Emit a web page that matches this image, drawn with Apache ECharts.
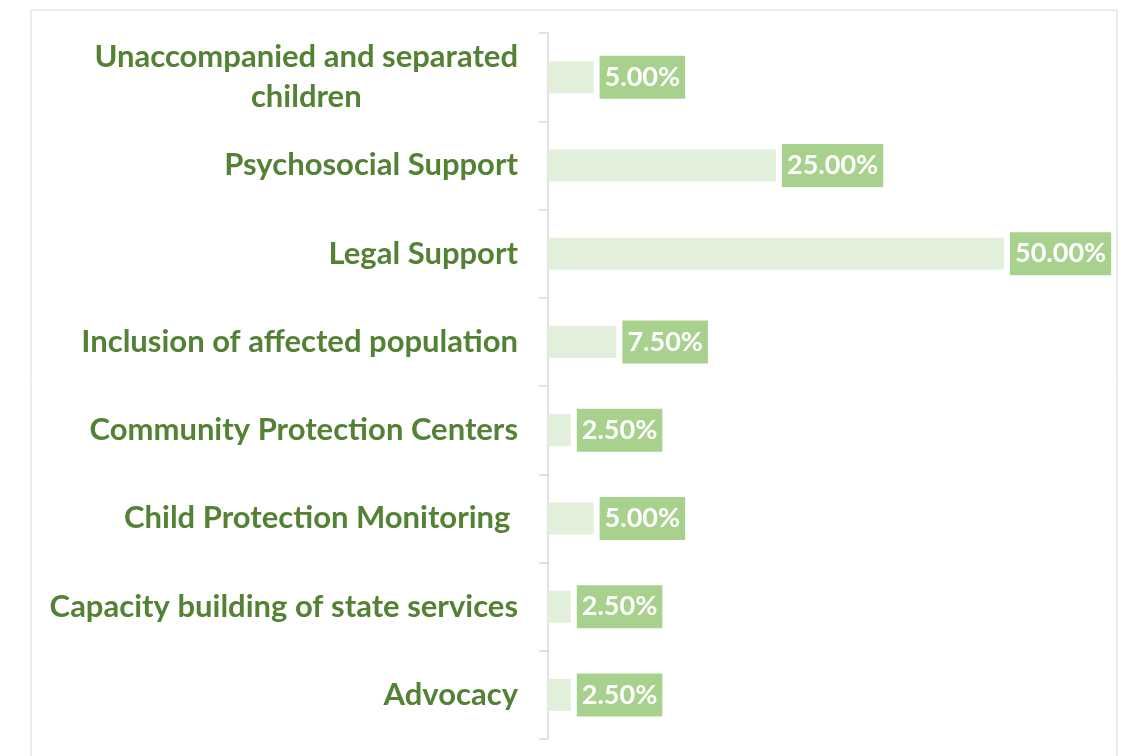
<!DOCTYPE html>
<html>
<head>
<meta charset="utf-8">
<script src="https://cdn.jsdelivr.net/npm/echarts@6/dist/echarts.min.js"></script>
<style>
  html, body { margin: 0; padding: 0; background: #fff; }
  #chart { width: 1123px; height: 756px; }
</style>
</head>
<body>
<div id="chart"></div>
<script>
// categories top to bottom
const categories = [
  'Unaccompanied and separated\nchildren',
  'Psychosocial Support',
  'Legal Support',
  'Inclusion of affected population',
  'Community Protection Centers',
  'Child Protection Monitoring ',
  'Capacity building of state services',
  'Advocacy'
]
// share of budget, percent
const shares = [5, 25, 50, 7.5, 2.5, 5, 2.5, 2.5]

const chart = echarts.init(document.getElementById('chart'))

chart.setOption({
  backgroundColor: '#ffffff',
  animation: false,
  graphic: [
    {
      type: 'rect',
      shape: { x: 31, y: 10, width: 1086, height: 770 },
      style: { fill: 'none', stroke: '#d9d9d9', lineWidth: 1 },
      silent: true
    }
  ],
  grid: {
    left: 548,
    right: 119,
    top: 33,
    bottom: 17,
    containLabel: false
  },
  xAxis: {
    type: 'value',
    min: 0,
    max: 50,
    show: false
  },
  yAxis: {
    type: 'category',
    inverse: true,
    data: categories,
    axisLine: { show: true, lineStyle: { color: '#d9d9d9', width: 1.5 } },
    axisTick: { show: true, length: 9, lineStyle: { color: '#d9d9d9', width: 1.5 } },
    axisLabel: {
      margin: 30,
      color: '#548235',
      fontFamily: 'Lato',
      fontWeight: 'bold',
      fontSize: 31,
      lineHeight: 40,
      formatter: function (v) {
        if (v.indexOf('\n') >= 0) {
          return v.split('\n').map(s => '{c|' + s + '}').join('\n')
        }
        return v
      },
      rich: {
        c: {
          align: 'center',
          color: '#548235',
          fontFamily: 'Lato',
          fontWeight: 'bold',
          fontSize: 31,
          lineHeight: 40
        }
      }
    }
  },
  series: [
    {
      type: 'bar',
      data: shares,
      barWidth: 32,
      itemStyle: { color: '#e2efda' },
      label: {
        show: true,
        position: 'right',
        distance: 6,
        color: '#ffffff',
        fontFamily: 'Lato',
        fontWeight: 'bold',
        fontSize: 27,
        lineHeight: 32,
        backgroundColor: '#a9d18e',
        padding: [6, 5, 5, 5],
        formatter: p => p.value.toFixed(2) + '%'
      }
    }
  ]
})
</script>
</body>
</html>
